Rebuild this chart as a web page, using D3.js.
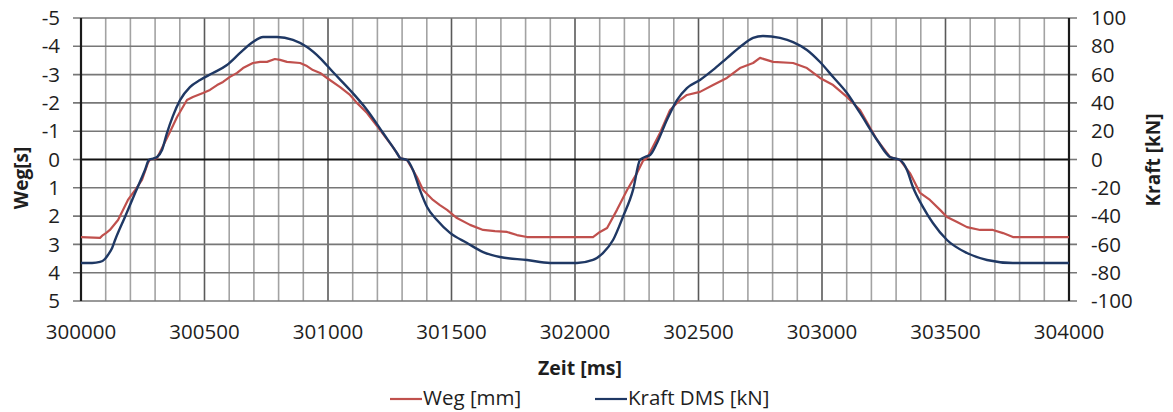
<!DOCTYPE html>
<html>
<head>
<meta charset="utf-8">
<script src="https://cdn.jsdelivr.net/npm/d3@7"></script>
<style>
  html, body { margin: 0; padding: 0; background: #fff; }
  svg { display: block; }
  text { font-family: "Open Sans", "Liberation Sans", sans-serif; fill: #1e1e1e; }
</style>
</head>
<body>
<svg id="chart" width="1173" height="412"></svg>
<script>
// Time axis (ms)
const zeitTicks = [300000, 300500, 301000, 301500, 302000, 302500, 303000, 303500, 304000];
const wegTicks = [-5, -4, -3, -2, -1, 0, 1, 2, 3, 4, 5];
const kraftTicks = [100, 80, 60, 40, 20, 0, -20, -40, -60, -80, -100];

// Weg [mm]: [Zeit ms, Weg]
const wegData = [
  [300000, 2.74], [300077, 2.77], [300089, 2.67], [300101, 2.60], [300117, 2.49],
  [300150, 2.14], [300190, 1.43], [300219, 1.08], [300247, 0.72], [300271, 0.12],
  [300279, 0.00], [300308, -0.05], [300328, -0.41], [300360, -0.97], [300389, -1.50],
  [300429, -2.10], [300453, -2.21], [300494, -2.35], [300522, -2.46], [300551, -2.63],
  [300575, -2.74], [300603, -2.92], [300632, -3.06], [300656, -3.23], [300696, -3.41],
  [300725, -3.45], [300753, -3.45], [300785, -3.55], [300806, -3.52], [300834, -3.45],
  [300887, -3.41], [300915, -3.30], [300939, -3.16], [300968, -3.06], [300996, -2.88],
  [301049, -2.56], [301089, -2.28], [301117, -2.00], [301158, -1.64], [301211, -1.04],
  [301263, -0.44], [301292, -0.05], [301320, 0.02], [301360, 0.62], [301385, 1.08],
  [301425, 1.43], [301453, 1.61], [301482, 1.78], [301522, 2.07], [301575, 2.31],
  [301628, 2.49], [301676, 2.53], [301725, 2.56], [301765, 2.67], [301806, 2.74],
  [302073, 2.74], [302101, 2.56], [302130, 2.42], [302170, 1.78], [302211, 1.08],
  [302251, 0.48], [302275, 0.05], [302292, -0.05], [302344, -0.94], [302385, -1.75],
  [302425, -2.10], [302453, -2.28], [302506, -2.39], [302559, -2.63], [302615, -2.88],
  [302668, -3.23], [302721, -3.41], [302749, -3.59], [302802, -3.45], [302883, -3.41],
  [302939, -3.23], [302992, -2.88], [303045, -2.63], [303101, -2.21], [303154, -1.75],
  [303223, -0.69], [303275, -0.09], [303316, 0.02], [303356, 0.48], [303397, 1.18],
  [303437, 1.43], [303478, 1.78], [303506, 2.03], [303547, 2.21], [303587, 2.39],
  [303640, 2.49], [303692, 2.49], [303733, 2.60], [303773, 2.74], [304000, 2.74]
];

// Kraft DMS [kN]: [Zeit ms, Kraft]
const kraftData = [
  [300000, -73.1], [300045, -73.1], [300077, -72.4], [300097, -70.3], [300109, -67.5],
  [300126, -62.5], [300138, -56.9], [300178, -40.6], [300219, -23.7], [300259, -7.4],
  [300275, -0.4], [300292, 0.7], [300308, 1.8], [300328, 6.7], [300348, 18.7],
  [300372, 30.7], [300401, 42.0], [300441, 51.2], [300482, 56.2], [300534, 61.1],
  [300591, 66.8], [300644, 75.3], [300696, 83.0], [300737, 86.6], [300794, 86.6],
  [300858, 84.5], [300915, 79.5], [300968, 71.7], [301020, 61.8], [301089, 49.1],
  [301158, 35.0], [301223, 18.7], [301279, 4.6], [301292, 1.1], [301320, -0.4],
  [301344, -7.4], [301372, -21.5], [301401, -33.6], [301441, -42.8], [301494, -51.9],
  [301563, -59.0], [301628, -65.4], [301696, -68.9], [301806, -71.0], [301899, -73.1],
  [302008, -73.1], [302073, -71.0], [302113, -66.1], [302154, -56.9], [302194, -40.6],
  [302235, -21.5], [302263, -0.4], [302283, 1.8], [302304, 3.2], [302332, 11.7],
  [302372, 27.9], [302413, 42.0], [302453, 50.5], [302506, 56.2], [302559, 63.3],
  [302615, 71.7], [302668, 79.5], [302721, 85.9], [302761, 87.3], [302830, 85.9],
  [302883, 83.0], [302939, 77.4], [302992, 68.9], [303045, 58.3], [303101, 47.0],
  [303154, 32.9], [303223, 13.8], [303275, 1.8], [303316, -0.4], [303344, -7.4],
  [303368, -19.4], [303409, -33.6], [303449, -44.9], [303506, -56.9], [303587, -66.1],
  [303668, -71.0], [303773, -73.1], [304000, -73.1]
];

const seriesNames = ["Weg [mm]", "Kraft DMS [kN]"];
const seriesColors = ["#c0504d", "#1f3864"];

const svg = d3.select("#chart");
const plot = { left: 81, right: 1069, top: 18, bottom: 301 };

const x = d3.scaleLinear().domain([300000, 304000]).range([plot.left, plot.right]);
const yWeg = d3.scaleLinear().domain([-5, 5]).range([plot.top, plot.bottom]);
const yKraft = d3.scaleLinear().domain([-100, 100]).range([plot.bottom, plot.top]);

// Grid: minor verticals every 100 ms, darker every 500 ms
const minorTimes = d3.range(300000, 304001, 100);
svg.append("g").selectAll("line").data(minorTimes.filter(t => t % 500 !== 0)).join("line")
  .attr("x1", d => x(d)).attr("x2", d => x(d))
  .attr("y1", plot.top).attr("y2", plot.bottom)
  .attr("stroke", "#a3a3a3").attr("stroke-width", 1.6);
svg.append("g").selectAll("line").data(zeitTicks.slice(1, -1)).join("line")
  .attr("x1", d => x(d)).attr("x2", d => x(d))
  .attr("y1", plot.top).attr("y2", plot.bottom)
  .attr("stroke", "#5a5a5a").attr("stroke-width", 1.6);

// Horizontal grid lines at each Weg tick, extended slightly as tick marks
svg.append("g").selectAll("line").data(wegTicks.filter(d => d !== 0)).join("line")
  .attr("x1", plot.left - 8).attr("x2", plot.right + 8)
  .attr("y1", d => yWeg(d)).attr("y2", d => yWeg(d))
  .attr("stroke", "#777").attr("stroke-width", 1.6);

// Zero line
svg.append("line")
  .attr("x1", plot.left).attr("x2", plot.right)
  .attr("y1", yWeg(0)).attr("y2", yWeg(0))
  .attr("stroke", "#111").attr("stroke-width", 2.2);
svg.append("line").attr("x1", plot.left - 8).attr("x2", plot.left).attr("y1", yWeg(0)).attr("y2", yWeg(0)).attr("stroke", "#777").attr("stroke-width", 1.6);
svg.append("line").attr("x1", plot.right).attr("x2", plot.right + 8).attr("y1", yWeg(0)).attr("y2", yWeg(0)).attr("stroke", "#777").attr("stroke-width", 1.6);

// Vertical axis lines
[plot.left, plot.right].forEach(px => {
  svg.append("line").attr("x1", px).attr("x2", px)
    .attr("y1", plot.top).attr("y2", plot.bottom)
    .attr("stroke", "#1a1a1a").attr("stroke-width", 2.2);
});

// Tick labels
svg.append("g").selectAll("text").data(wegTicks).join("text")
  .attr("x", 60).attr("y", d => yWeg(d)).attr("dy", "0.35em")
  .attr("text-anchor", "end").attr("font-size", 20.5).text(d => d);
svg.append("g").selectAll("text").data(kraftTicks).join("text")
  .attr("x", 1091).attr("y", d => yKraft(d)).attr("dy", "0.35em")
  .attr("text-anchor", "start").attr("font-size", 20.5).text(d => d);
svg.append("g").selectAll("text").data(zeitTicks).join("text")
  .attr("x", d => x(d)).attr("y", 332).attr("dy", "0.35em")
  .attr("text-anchor", "middle").attr("font-size", 20.5).text(d => d);

// Axis titles
svg.append("text").attr("transform", "translate(28,178) rotate(-90)")
  .attr("text-anchor", "middle").attr("font-size", 19).attr("font-weight", "bold").text("Weg[s]");
svg.append("text").attr("transform", "translate(1160,160) rotate(-90)")
  .attr("text-anchor", "middle").attr("font-size", 19).attr("font-weight", "bold").text("Kraft [kN]");
svg.append("text").attr("x", 580).attr("y", 368).attr("dy", "0.35em")
  .attr("text-anchor", "middle").attr("font-size", 19.5).attr("font-weight", "bold").text("Zeit [ms]");

// Series lines
const wegLine = d3.line().x(d => x(d[0])).y(d => yWeg(d[1]));
const kraftLine = d3.line().x(d => x(d[0])).y(d => yKraft(d[1])).curve(d3.curveMonotoneX);

svg.append("path").datum(wegData).attr("d", wegLine)
  .attr("fill", "none").attr("stroke", seriesColors[0]).attr("stroke-width", 2.2).attr("stroke-linejoin", "round");
svg.append("path").datum(kraftData).attr("d", kraftLine)
  .attr("fill", "none").attr("stroke", seriesColors[1]).attr("stroke-width", 2.4).attr("stroke-linejoin", "round");

// Legend
const legendX = [390, 595];
const legend = svg.append("g");
seriesNames.forEach((name, i) => {
  legend.append("line").attr("x1", legendX[i]).attr("x2", legendX[i] + 32)
    .attr("y1", 399).attr("y2", 399).attr("stroke", seriesColors[i]).attr("stroke-width", 2.2);
  legend.append("text").attr("x", legendX[i] + 33).attr("y", 398).attr("dy", "0.32em")
    .attr("font-size", 20.5).text(name);
});
</script>
</body>
</html>
